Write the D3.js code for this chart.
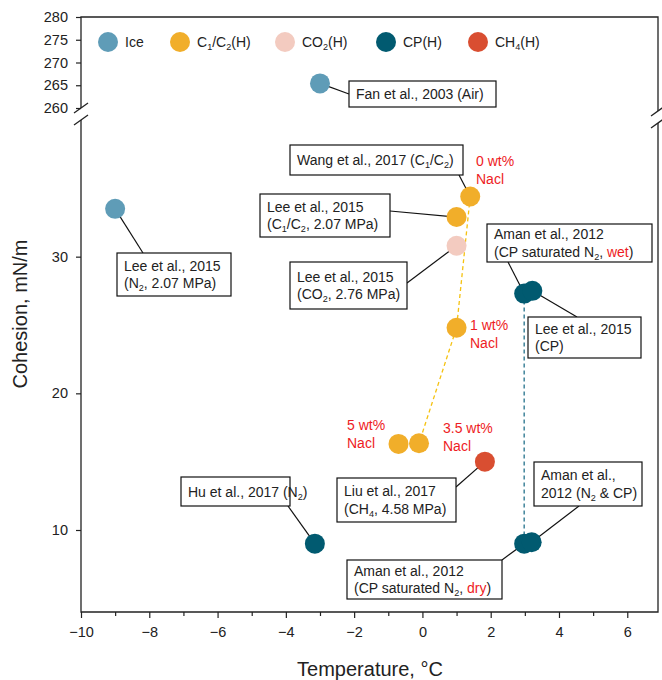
<!DOCTYPE html>
<html>
<head>
<meta charset="utf-8">
<script src="https://cdn.jsdelivr.net/npm/d3@7"></script>
<style>
  body { margin: 0; background: #fff; }
  svg { font-family: Arial, "Liberation Sans", sans-serif; }
</style>
</head>
<body>
<div id="chart"></div>
<script>
// (DATA) series names and colours
var seriesNames = ["Ice", "C_1/C_2(H)", "CO_2(H)", "CP(H)", "CH_4(H)"];
var seriesColors = ["#5f9cb7", "#f1ae2a", "#f3cbc0", "#015a70", "#d94e31"];

// temperature (°C) and cohesion (mN/m) for each series
var iceTemp = [-3.0, -9.0];
var iceCohesion = [265.4, 33.5];
var c1c2Temp = [1.4, 1.0, 1.0, -0.7, -0.1];
var c1c2Cohesion = [34.4, 32.9, 24.8, 16.3, 16.35];
var co2Temp = [1.0];
var co2Cohesion = [30.8];
var cpTemp = [-3.15, 2.98, 3.22, 2.98, 3.2];
var cpCohesion = [9.0, 27.3, 27.5, 9.0, 9.1];
var ch4Temp = [1.83];
var ch4Cohesion = [15.0];

// dashed trend lines (salinity for C1/C2, wet -> dry for CP)
var naclTemp = [1.4, 1.0, -0.1, -0.7];
var naclCohesion = [34.4, 24.8, 16.35, 16.3];
var wetDryTemp = [2.98, 2.98];
var wetDryCohesion = [27.3, 9.0];

// tick values
var xTicks = [-10, -8, -6, -4, -2, 0, 2, 4, 6];
var xMinorTicks = [-9, -7, -5, -3, -1, 1, 3, 5];
var yTicksUpper = [260, 265, 270, 275, 280];
var yTicksLower = [10, 20, 30];

// annotation texts ( _x = subscript, {..} = red )
var annoTexts = [
  ["Fan et al., 2003 (Air)"],
  ["Lee et al., 2015", "(N_2, 2.07 MPa)"],
  ["Wang et al., 2017 (C_1/C_2)"],
  ["Lee et al., 2015", "(C_1/C_2, 2.07 MPa)"],
  ["Lee et al., 2015", "(CO_2, 2.76 MPa)"],
  ["Aman et al., 2012", "(CP saturated N_2, {wet})"],
  ["Lee et al., 2015", "(CP)"],
  ["Liu et al., 2017", "(CH_4, 4.58 MPa)"],
  ["Aman et al.,", "2012 (N_2 & CP)"],
  ["Aman et al., 2012", "(CP saturated N_2, {dry})"],
  ["Hu et al., 2017 (N_2)"]
];
// which point each annotation belongs to: [temp, cohesion]
var annoPoints = [
  [-3.0, 265.4], [-9.0, 33.5], [1.4, 34.4], [1.0, 32.9], [1.0, 30.8],
  [2.98, 27.3], [3.22, 27.5], [1.83, 15.0], [3.2, 9.1], [2.98, 9.0], [-3.15, 9.0]
];
var saltTexts = [["0 wt%", "Nacl"], ["1 wt%", "Nacl"], ["5 wt%", "Nacl"], ["3.5 wt%", "Nacl"]];

// (LAYOUT) svg size and plot area
var w = 662, h = 680;
var left = 81, right = 658;
var topUp = 17, botUp = 108;
var topLow = 120, botLow = 612;

var x = d3.scaleLinear().domain([-10, 6.9]).range([left, right]);
var yUp = d3.scaleLinear().domain([260, 280]).range([botUp, topUp]);
var yLow = d3.scaleLinear().domain([4, 40]).range([botLow, topLow]);
function y(v) { return v >= 200 ? yUp(v) : yLow(v); }

// annotation boxes: [left, top, width, height, anchorX, anchorY]
var annoBoxes = [
  [349, 81, 147, 26, 349, 94],
  [117, 253, 114, 43, 143, 253],
  [290, 145, 173, 30, 459, 175],
  [260, 194, 130, 43, 390, 211],
  [290, 262, 117, 47, 407, 283],
  [487, 224, 165, 38, 508, 262],
  [528, 317, 113, 41, 577, 317],
  [337, 478, 119, 44, 456, 487],
  [534, 462, 108, 44, 579, 506],
  [347, 560, 155, 39, 502, 560],
  [181, 477, 109, 29, 288, 506]
];
// salt label positions [x, y of first baseline]
var saltPos = [[476, 166], [470, 330], [347, 430], [443, 433]];
// legend item x positions
var legendX = [108, 180, 285, 386, 478];
var legendY = 42;

var svg = d3.select("#chart").append("svg")
  .attr("width", w).attr("height", h);

// write text with subscripts and red parts
function richText(sel, str, size) {
  var re = /(\{[^}]*\})|(_.)|([^_{]+)/g, m;
  var shift = false;
  while ((m = re.exec(str)) !== null) {
    if (m[1]) {
      sel.append("tspan").attr("fill", "#ee1c24").text(m[1].slice(1, -1))
        .attr("dy", shift ? -3 : null);
      shift = false;
    } else if (m[2]) {
      sel.append("tspan").attr("font-size", size * 0.65).attr("dy", 3).text(m[2].slice(1));
      shift = true;
    } else {
      sel.append("tspan").text(m[3]).attr("dy", shift ? -3 : null);
      shift = false;
    }
  }
}

// (AXES) x axis major and minor ticks
var xAxis = d3.axisBottom(x).tickValues(xTicks).tickSize(6).tickPadding(9)
  .tickFormat(d3.format("d"));
svg.append("g").attr("transform", "translate(0," + botLow + ")").call(xAxis);
svg.append("g").attr("transform", "translate(0," + botLow + ")")
  .call(d3.axisBottom(x).tickValues(xMinorTicks).tickSize(4).tickFormat(""));

svg.append("g").attr("transform", "translate(" + left + ",0)")
  .call(d3.axisLeft(yUp).tickValues(yTicksUpper).tickSize(5).tickPadding(8));
svg.append("g").attr("transform", "translate(" + left + ",0)")
  .call(d3.axisLeft(yLow).tickValues(yTicksLower).tickSize(5).tickPadding(8));

svg.selectAll(".domain").remove();
svg.selectAll(".tick line").attr("stroke", "#222").attr("stroke-width", 1.2);
svg.selectAll(".tick text").attr("font-size", 14.5).attr("fill", "#222")
  .attr("font-family", "Arial, 'Liberation Sans', sans-serif");

// frame with broken axis
var frame = svg.append("g").attr("stroke", "#222").attr("stroke-width", 1.3).attr("fill", "none");
frame.append("path").attr("d", "M" + left + "," + botUp + "V" + topUp + "H" + right + "V" + (botUp + 3));
frame.append("path").attr("d", "M" + left + "," + topLow + "V" + botLow + "H" + right + "V" + (topLow + 3));
[[left, botUp], [left, topLow], [right, botUp + 3], [right, topLow + 3]].forEach(function(p) {
  frame.append("line")
    .attr("x1", p[0] - 7).attr("y1", p[1] + 5)
    .attr("x2", p[0] + 7).attr("y2", p[1] - 5);
});

// axis titles
svg.append("text").attr("x", 370).attr("y", 676)
  .attr("text-anchor", "middle").attr("font-size", 20).attr("fill", "#222")
  .text("Temperature, °C");
svg.append("text").attr("transform", "translate(27,314) rotate(-90)")
  .attr("text-anchor", "middle").attr("font-size", 20).attr("fill", "#222")
  .text("Cohesion, mN/m");

// dashed trend lines
var line = d3.line().x(function(d) { return x(d[0]); }).y(function(d) { return y(d[1]); });
svg.append("path").datum(d3.zip(naclTemp, naclCohesion))
  .attr("d", line).attr("fill", "none").attr("stroke", "#f5c211")
  .attr("stroke-width", 1.3).attr("stroke-dasharray", "4,3");
svg.append("path").datum(d3.zip(wetDryTemp, wetDryCohesion))
  .attr("d", line).attr("fill", "none").attr("stroke", "#23718b")
  .attr("stroke-width", 1.3).attr("stroke-dasharray", "4,3");

// leader lines
svg.append("g").selectAll("line").data(annoPoints).enter().append("line")
  .attr("x1", function(d) { return x(d[0]); })
  .attr("y1", function(d) { return y(d[1]); })
  .attr("x2", function(d, i) { return annoBoxes[i][4]; })
  .attr("y2", function(d, i) { return annoBoxes[i][5]; })
  .attr("stroke", "#111").attr("stroke-width", 1.2);

// (POINTS)
var allSeries = [
  [iceTemp, iceCohesion], [c1c2Temp, c1c2Cohesion], [co2Temp, co2Cohesion],
  [cpTemp, cpCohesion], [ch4Temp, ch4Cohesion]
];
allSeries.forEach(function(s, k) {
  svg.append("g").selectAll("circle").data(d3.zip(s[0], s[1])).enter().append("circle")
    .attr("cx", function(d) { return x(d[0]); })
    .attr("cy", function(d) { return y(d[1]); })
    .attr("r", 10)
    .attr("fill", seriesColors[k]);
});

// annotation boxes
annoTexts.forEach(function(lines, i) {
  var b = annoBoxes[i];
  var g = svg.append("g");
  g.append("rect").attr("x", b[0]).attr("y", b[1]).attr("width", b[2]).attr("height", b[3])
    .attr("fill", "#fff").attr("stroke", "#111").attr("stroke-width", 1.2);
  var lh = 17.5;
  var y0 = b[1] + b[3] / 2 - (lines.length - 1) * lh / 2 + 5;
  lines.forEach(function(t, j) {
    var txt = g.append("text").attr("x", b[0] + 7).attr("y", y0 + j * lh)
      .attr("font-size", 14).attr("fill", "#222");
    richText(txt, t, 14);
  });
});

// salinity labels
saltTexts.forEach(function(lines, i) {
  lines.forEach(function(t, j) {
    svg.append("text").attr("x", saltPos[i][0]).attr("y", saltPos[i][1] + j * 18)
      .attr("font-size", 14).attr("fill", "#ee1c24").text(t);
  });
});

// (LEGEND)
seriesNames.forEach(function(name, i) {
  svg.append("circle").attr("cx", legendX[i]).attr("cy", legendY).attr("r", 10)
    .attr("fill", seriesColors[i]);
  var t = svg.append("text").attr("x", legendX[i] + 17).attr("y", legendY + 5)
    .attr("font-size", 14).attr("fill", "#222");
  richText(t, name, 14);
});
</script>
</body>
</html>
